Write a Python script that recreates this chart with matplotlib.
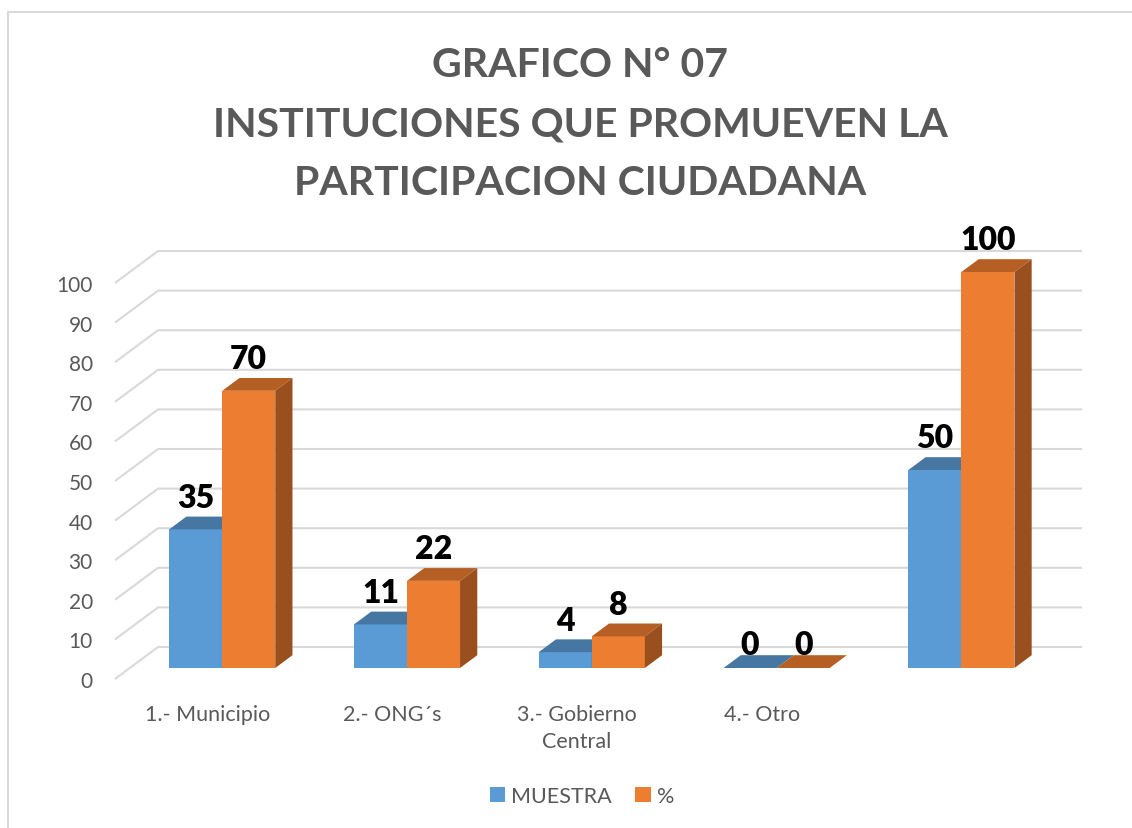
import numpy as np
import matplotlib
matplotlib.use("Agg")
import matplotlib.pyplot as plt
from matplotlib.patches import Polygon, Patch
from matplotlib.lines import Line2D

# data
categories = ["1.- Municipio", "2.- ONG´s", "3.- Gobierno\nCentral", "4.- Otro", ""]
muestra = [35, 11, 4, 0, 50]
porcentaje = [70, 22, 8, 0, 100]
series = ["MUESTRA", "%"]
yticks = list(range(0, 101, 10))
title_lines = ["GRAFICO N° 07", "INSTITUCIONES QUE PROMUEVEN LA", "PARTICIPACION CIUDADANA"]

GRAY = "#595959"
GRID = "#D9D9D9"
FRONT = ["#5B9BD5", "#ED7D31"]
TOP = ["#4676A2", "#B65F24"]
SIDE = ["#3B6791", "#9A4F1E"]

# fake 3d: depth vector in data units (category, value)
DX, DY = 0.233, 8.08
T1, T2 = 0.344, 0.744      # front / back of the bars as fraction of depth
W = 0.287                  # bar width in category units

plt.rcParams["font.family"] = ["Lato", "DejaVu Sans"]

W_PX, H_PX = 1132, 829
fig = plt.figure(figsize=(W_PX / 100, H_PX / 100), dpi=100)
ax = fig.add_axes([115 / W_PX, 1 - 680 / H_PX, 924 / W_PX, 396 / H_PX])
ax.set_xlim(-0.5, 4.5)
ax.set_ylim(0, 100)
for s in ax.spines.values():
    s.set_visible(False)
ax.set_yticks(yticks)
ax.set_yticklabels([str(t) for t in yticks])
x = np.arange(len(categories))
ax.set_xticks(x)
ax.set_xticklabels(categories, linespacing=1.45)
ax.tick_params(axis="y", length=0, pad=16, labelsize=15, labelcolor=GRAY)
ax.tick_params(axis="x", length=0, pad=18, labelsize=15.5, labelcolor=GRAY)
for lab in ax.get_xticklabels():
    lab.set_verticalalignment("top")

# side wall + back wall gridlines
for v in yticks:
    ax.plot([-0.5, -0.5 + DX, 4.5 + DX], [v, v + DY, v + DY], color=GRID,
            lw=1.5, clip_on=False, zorder=1, solid_capstyle="butt")

# bars
for k, vals in enumerate([muestra, porcentaje]):
    left = x - W + k * W + T1 * DX
    ax.bar(left, vals, width=W, bottom=T1 * DY, align="edge", color=FRONT[k],
           clip_on=False, zorder=2 + k, linewidth=0)
    d = (T2 - T1)
    for xl, v in zip(left, vals):
        y0 = v + T1 * DY
        top = [(xl, y0), (xl + W, y0), (xl + W + d * DX, y0 + d * DY), (xl + d * DX, y0 + d * DY)]
        ax.add_patch(Polygon(top, closed=True, fc=TOP[k], ec="none", clip_on=False, zorder=2 + k))
        if v > 0:
            side = [(xl + W, T1 * DY), (xl + W, y0), (xl + W + d * DX, y0 + d * DY),
                    (xl + W + d * DX, T2 * DY)]
            ax.add_patch(Polygon(side, closed=True, fc=SIDE[k], ec="none", clip_on=False, zorder=2 + k))
        ax.annotate(str(v), (xl + W / 2, v + T2 * DY), xytext=(0, 7 if v > 0 else 1),
                    textcoords="offset points", ha="center", va="baseline",
                    fontsize=23, fontweight="heavy", color="black", zorder=5,
                    annotation_clip=False)

# title
for line, base in zip(title_lines, [77, 137, 195]):
    fig.text(580 / W_PX, 1 - base / H_PX, line, ha="center", va="baseline",
             fontsize=29.5, fontweight="bold", color=GRAY)

# legend
handles = [Patch(facecolor=c, edgecolor="none") for c in FRONT]
fig.legend(handles, series, loc="center", bbox_to_anchor=(582 / W_PX, 1 - 797 / H_PX),
           ncol=2, frameon=False, fontsize=15.5, labelcolor=GRAY, handlelength=0.7,
           handleheight=0.7, handletextpad=0.3, columnspacing=1.1)

# chart area border (only top and left visible in the crop)
fig.add_artist(Line2D([8 / W_PX, 8 / W_PX, 1], [0, 1 - 13 / H_PX, 1 - 13 / H_PX],
                      transform=fig.transFigure, color=GRID, lw=1.5))

fig.savefig("out.png", dpi=100)
